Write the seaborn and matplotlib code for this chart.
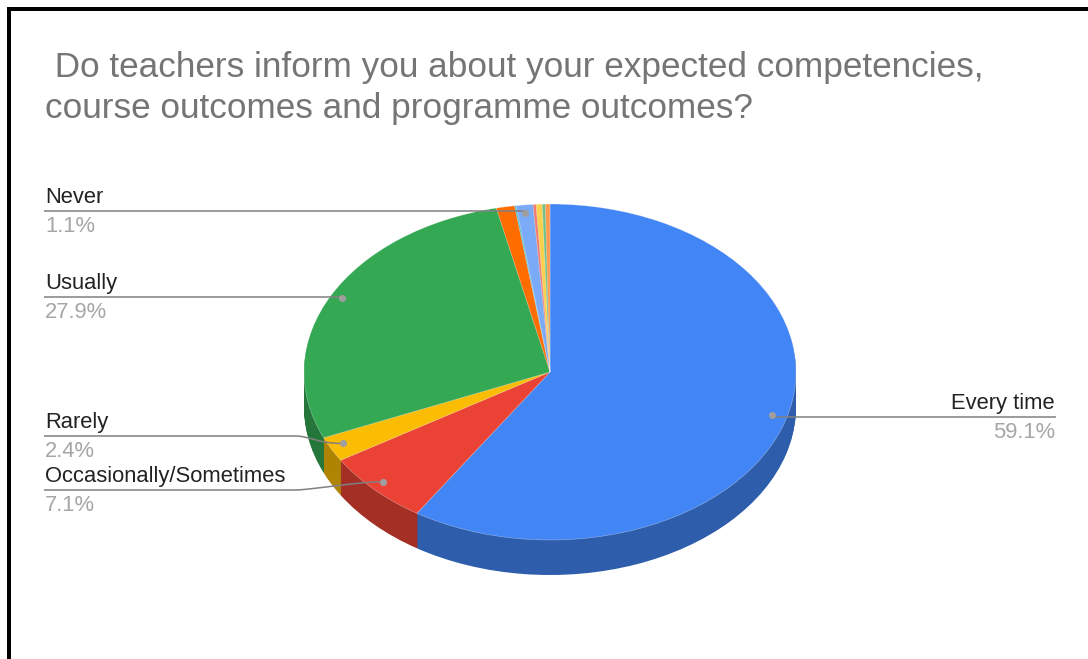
import numpy as np
import matplotlib
matplotlib.use('Agg')
import matplotlib.pyplot as plt
from matplotlib.patches import PathPatch
from matplotlib.path import Path
import seaborn as sns

title = ' Do teachers inform you about your expected competencies,\ncourse outcomes and programme outcomes?'

# clockwise from the top of the pie
categories = ['Every time', 'Occasionally/Sometimes', 'Rarely', 'Usually', '', '', 'Never', '', '', '', '']
values = [59.1, 7.1, 2.4, 27.9, 1.2, 0.1, 1.1, 0.2, 0.4, 0.2, 0.3]
percent_labels = ['59.1%', '7.1%', '2.4%', '27.9%', '', '', '1.1%', '', '', '', '']
colors = ['#4285F4', '#EA4335', '#FBBC04', '#34A853', '#FF6D01', '#46BDC6',
          '#7BAAF7', '#F07B72', '#FCD04F', '#71C287', '#FF994D']

sns.set_theme(style='white')
plt.rcParams['font.family'] = ['Liberation Sans', 'DejaVu Sans']

W, H = 1088, 659
fig = plt.figure(figsize=(W / 100, H / 100), dpi=100, facecolor='white')

# pie geometry in pixels of the picture
cx, cy, rx, ry, depth = 550, 372, 246, 168, 35
ax = fig.add_axes([(cx - rx) / W, 1 - (cy + ry + depth) / H, 2 * rx / W, (2 * ry + depth) / H])

palette = sns.color_palette(colors)
dark = [tuple(c * 0.7 for c in col) for col in palette]

# the side wall is the pie in darker colours, stacked downwards
for d in np.linspace(depth / ry, 0, depth + 1)[:-1]:
    ax.pie(values, colors=dark, startangle=90, counterclock=False, center=(0, -d),
           wedgeprops={'linewidth': 0})
ax.pie(values, colors=palette, startangle=90, counterclock=False,
       wedgeprops={'linewidth': 0.4, 'edgecolor': (1, 1, 1, 0.45)})
ax.set_aspect('auto')
ax.set_xlim(-1, 1)
ax.set_ylim(-1 - depth / ry, 1)
ax.patch.set_alpha(0)

# overlay in picture pixels for frame, title and labels
over = fig.add_axes([0, 0, 1, 1], facecolor='none')
over.set_xlim(0, W)
over.set_ylim(H, 0)
over.axis('off')

over.fill_between([7, 11], 7, H, color='black', linewidth=0)
over.fill_between([7, W], 7, 11, color='black', linewidth=0)

over.text(45, 88, title, fontsize=25.3, color='#757575', va='center', ha='left', linespacing=1.31)


def anchor(i):
    mid = (sum(values[:i]) + values[i] / 2) / sum(values) * 2 * np.pi
    return cx - 1 + 0.945 * rx * np.sin(mid), cy - 1.5 - 0.945 * ry * np.cos(mid)


line_color = '#808080'
label_size = 15.8
# label line height, and where a leader starts to bend (None = straight)
leaders = {'Never': (211, None), 'Usually': (297, None), 'Rarely': (436, 295),
           'Occasionally/Sometimes': (490, 295)}

for i, name in enumerate(categories):
    if not name:
        continue
    ax_, ay_ = anchor(i)
    if name == 'Every time':
        y = 417
        over.plot([ax_, 1056], [y, y], color=line_color, lw=1.1, solid_capstyle='butt')
        over.text(1055, y - 3, name, fontsize=label_size, color='#222222', ha='right', va='bottom')
        over.text(1055, y + 5, percent_labels[i], fontsize=label_size, color='#a6a6a6', ha='right', va='top')
    else:
        y, bend = leaders[name]
        if bend is None:
            over.plot([44, ax_], [y, y], color=line_color, lw=1.1, solid_capstyle='butt')
        else:
            verts = [(44, y), (bend, y), (bend + 15, y), (ax_ - 25, ay_), (ax_, ay_)]
            codes = [Path.MOVETO, Path.LINETO, Path.CURVE4, Path.CURVE4, Path.CURVE4]
            over.add_patch(PathPatch(Path(verts, codes), fill=False, edgecolor=line_color, lw=1.1))
        over.text(45, y - 3, name, fontsize=label_size, color='#222222', ha='left', va='bottom')
        over.text(45, y + 5, percent_labels[i], fontsize=label_size, color='#a6a6a6', ha='left', va='top')
    over.scatter([ax_], [ay_], s=26, color='#9e9e9e', linewidths=0, zorder=5)

fig.savefig('out.png', dpi=100)
